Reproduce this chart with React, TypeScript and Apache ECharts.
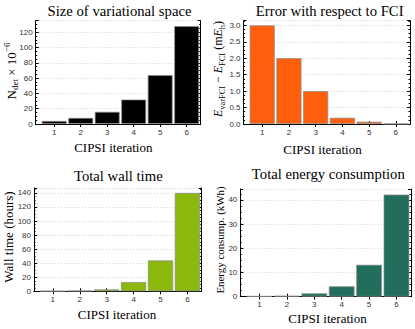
import React, { useEffect, useRef } from "react";
import * as echarts from "echarts";

const iterations = [1, 2, 3, 4, 5, 6];
const ndet = [4, 8, 16, 32, 64, 128];
const errorFCI = [3.0, 2.0, 1.0, 0.19, 0.07, 0.005];
const wallTime = [0.5, 1.0, 2.8, 13.2, 44, 140];
const energy = [0.25, 0.4, 1.4, 4.3, 13.2, 42.2];

const titles = [
  "Size of variational space",
  "Error with respect to FCI",
  "Total wall time",
  "Total energy consumption",
];
const xTitle = "CIPSI iteration";

const SERIF = "'Liberation Serif', 'Times New Roman', serif";
const SANS = "'Liberation Sans', Arial, sans-serif";

type Panel = {
  grid: { left: number; top: number; width: number; height: number };
  values: number[];
  color: string;
  max: number;
  interval: number;
  decimals: number;
};

const panels: Panel[] = [
  { grid: { left: 35.7, top: 20.7, width: 165, height: 103.3 }, values: ndet, color: "#000000", max: 135, interval: 20, decimals: 0 },
  { grid: { left: 243.5, top: 20.7, width: 166.5, height: 103.3 }, values: errorFCI, color: "#ff5f0a", max: 3.14, interval: 0.5, decimals: 1 },
  { grid: { left: 34, top: 188, width: 167.7, height: 103.3 }, values: wallTime, color: "#8bb80a", max: 147, interval: 20, decimals: 0 },
  { grid: { left: 240.3, top: 189, width: 170.7, height: 107.7 }, values: energy, color: "#226e5d", max: 44.5, interval: 10, decimals: 0 },
];

function buildOption() {
  const grid: any[] = [];
  const xAxis: any[] = [];
  const yAxis: any[] = [];
  const series: any[] = [];
  const line = { show: true, lineStyle: { color: "#000", width: 1 } };
  panels.forEach((p, i) => {
    grid.push({ ...p.grid, containLabel: false });
    const xBase = {
      type: "value",
      gridIndex: i,
      min: 0.3,
      max: 6.53,
      axisLine: line,
      splitLine: { show: false },
      axisTick: { show: true, inside: true, length: 3, customValues: iterations, lineStyle: { color: "#000" } },
    };
    xAxis.push({
      ...xBase,
      position: "bottom",
      axisLabel: {
        show: true,
        customValues: iterations,
        formatter: (v: number) => (Number.isInteger(v) ? String(v) : ""),
        fontFamily: SANS,
        fontSize: 8,
        color: "#333",
        margin: 4,
      },
    });
    xAxis.push({ ...xBase, position: "top", axisLabel: { show: false } });
    const fmt = (v: number) => {
      const r = Math.round(v / p.interval) * p.interval;
      if (Math.abs(r - v) > 1e-6) return "";
      return v.toFixed(p.decimals);
    };
    const yBase = {
      type: "value",
      gridIndex: i,
      min: 0,
      max: p.max,
      interval: p.interval,
      axisLine: line,
      axisTick: { show: true, inside: true, length: 3, lineStyle: { color: "#000" } },
      minorTick: { show: true, splitNumber: 4, length: 1.5, lineStyle: { color: "#000" } },
    };
    yAxis.push({
      ...yBase,
      position: "left",
      axisLabel: { show: true, formatter: fmt, fontFamily: SANS, fontSize: 8, color: "#333", margin: 3 },
      splitLine: { show: true, lineStyle: { color: "#c8c8c8", type: [1, 2], width: 0.8 } },
    });
    yAxis.push({ ...yBase, position: "right", axisLabel: { show: false }, splitLine: { show: false } });
    series.push({
      type: "bar",
      xAxisIndex: 2 * i,
      yAxisIndex: 2 * i,
      barWidth: "94%",
      data: iterations.map((x, k) => [x, p.values[k]]),
      itemStyle: { color: p.color, borderColor: "rgba(140,140,140,0.9)", borderWidth: 0.8 },
    });
  });

  const ctr = { align: "center", verticalAlign: "middle", textAlign: "center", textVerticalAlign: "middle" };
  const txt = (text: string, x: number, y: number, size: number, extra: any = {}) => ({
    type: "text",
    x,
    y,
    silent: true,
    style: { text, fontFamily: SERIF, fontSize: size, fill: "#000", ...ctr, ...extra },
  });
  const vtxt = (text: string, x: number, y: number, size: number, rich?: any) => ({
    type: "text",
    x,
    y,
    rotation: Math.PI / 2,
    silent: true,
    style: { text, fontFamily: SERIF, fontSize: size, fill: "#000", lineHeight: size + 4, rich, ...ctr },
  });

  const subStyle = (size: number) => ({ fontFamily: SERIF, fontSize: size * 0.7, verticalAlign: "bottom", lineHeight: size + 4, fill: "#000" });
  const supStyle = (size: number) => ({ fontFamily: SERIF, fontSize: size * 0.7, verticalAlign: "top", lineHeight: size + 4, fill: "#000" });
  const norm = (size: number) => ({ fontFamily: SERIF, fontSize: size, lineHeight: size + 4, fill: "#000" });
  const ital = (size: number) => ({ fontFamily: SERIF, fontSize: size, fontStyle: "italic", lineHeight: size + 4, fill: "#000" });

  const graphic = [
    txt(titles[0], 119.5, 10.5, 14.7),
    txt(titles[1], 329.7, 10.5, 14.7),
    txt(titles[2], 118.3, 176.3, 14.7),
    txt(titles[3], 328.3, 173.5, 14.7),
    txt(xTitle, 113.3, 147, 13),
    txt(xTitle, 322.5, 149, 13),
    txt(xTitle, 117, 314, 13),
    txt(xTitle, 327.5, 318, 13),
    vtxt("{n|N}{sub|det}{n| × 10}{sup|−6}", 11, 71, 13, { n: norm(13), sub: subStyle(13), sup: supStyle(13) }),
    vtxt("{i|E}{sub|varFCI}{n| − }{i|E}{sub|FCI}{n| (m}{i|E}{sub|h}{n|)}", 218, 69, 12, {
      n: norm(12), i: ital(12), sub: subStyle(12),
    }),
    vtxt("Wall time (hours)", 8.5, 237, 13),
    vtxt("Energy consump. (kWh)", 219.5, 240, 10.9),
  ];

  return { animation: false, grid, xAxis, yAxis, series, graphic };
}

export default function App() {
  const ref = useRef<HTMLDivElement>(null);
  useEffect(() => {
    if (!ref.current) return;
    const chart = echarts.init(ref.current, undefined, { renderer: "svg" });
    chart.setOption(buildOption() as any);
    return () => chart.dispose();
  }, []);
  return (
    <div
      ref={ref}
      style={{ position: "fixed", left: 0, top: 0, width: 415, height: 329, background: "#fff" }}
    />
  );
}
